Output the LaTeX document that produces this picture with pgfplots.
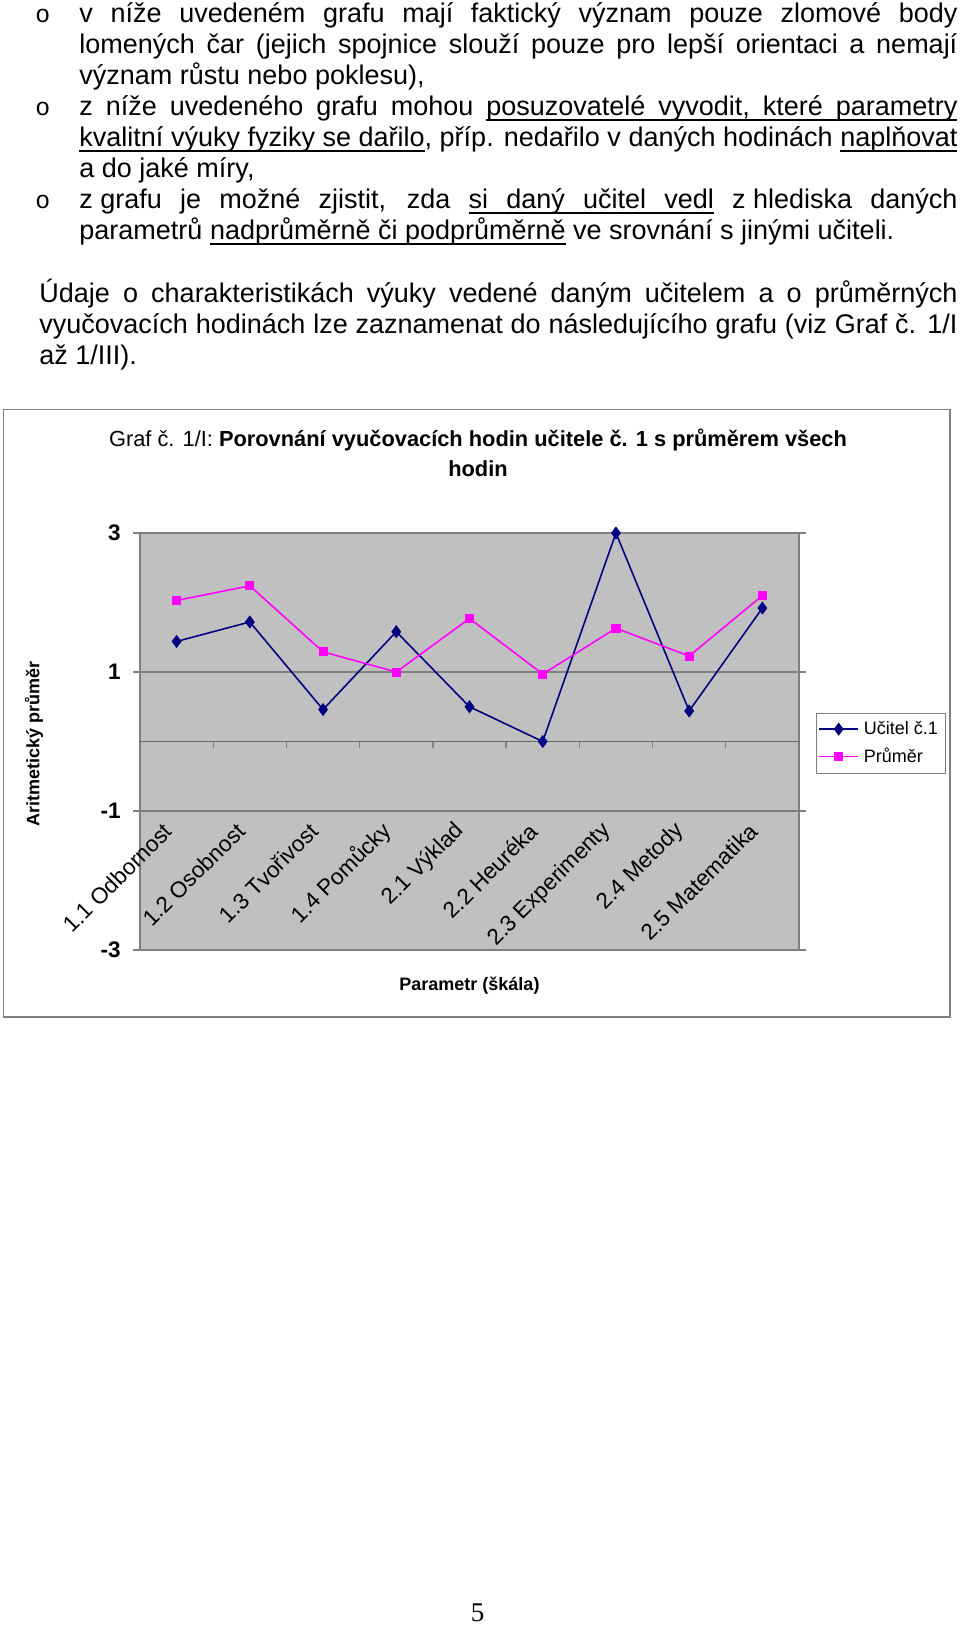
\documentclass[border=0pt]{standalone}
\usepackage{fontspec}
\setmainfont{Liberation Sans}
\newfontfamily\monofont{Liberation Mono}
\newfontfamily\seriffont{Liberation Serif}
\usepackage{pgfplots}
\pgfplotsset{compat=1.18}
\usepackage{pgfplotstable}

\definecolor{plotgray}{HTML}{C0C0C0}
\definecolor{bordergray}{HTML}{808080}
\definecolor{navyb}{HTML}{000080}
\definecolor{mag}{HTML}{FF00FF}

\newcommand\ulw[1]{\setbox0\hbox{#1}\rlap{\vrule height -1.6pt depth 2.15pt width\wd0}\box0\relax}
\newcommand\uls{\leaders\hrule height -1.6pt depth 2.15pt\hskip\fontdimen2\font plus\fontdimen3\font minus\fontdimen4\font\relax}

\pgfplotstableread{
x teacher avg
0 1.44 2.03
1 1.72 2.24
2 0.46 1.29
3 1.58 1.00
4 0.50 1.77
5 0.00 0.97
6 3.00 1.63
7 0.44 1.23
8 1.92 2.10
}\chartdata

\begin{document}
\begin{tikzpicture}
\begin{scope}[x=0.444444pt,y=-0.444444pt]
\path[use as bounding box, fill=white] (0,0) rectangle (960,1625);
\tikzset{body/.style={font=\fontsize{12}{13.8}\selectfont, inner sep=0pt, anchor=base west}}
% bullets
\foreach \yy in {22.7,115.7,208.7}{
  \node[body, font=\fontsize{11}{13}\selectfont] at (35,\yy) {\monofont o};
}
\node[body] at (79,22.7) {\hbox to 390.2pt{v níže uvedeném grafu mají faktický význam pouze zlomové body}};
\node[body] at (79,53.7) {\hbox to 390.2pt{lomených čar (jejich spojnice slouží pouze pro lepší orientaci a nemají}};
\node[body] at (79,84.7) {význam růstu nebo poklesu),};
\node[body] at (79,115.7) {\hbox to 390.2pt{z níže uvedeného grafu mohou \ulw{posuzovatelé}\uls\ulw{vyvodit,}\uls\ulw{které}\uls\ulw{parametry}}};
\node[body] at (79,146.7) {\hbox to 390.2pt{\ulw{kvalitní}\uls\ulw{výuky}\uls\ulw{fyziky}\uls\ulw{se}\uls\ulw{dařilo}, příp. nedařilo v daných hodinách \ulw{naplňovat}}};
\node[body] at (79,177.7) {a do jaké míry,};
\node[body] at (79,208.7) {\hbox to 390.2pt{\mbox{z grafu} je možné zjistit, zda \ulw{si}\uls\ulw{daný}\uls\ulw{učitel}\uls\ulw{vedl} \mbox{z hlediska} daných}};
\node[body] at (79,239.7) {parametrů \ulw{nadprůměrně}\uls\ulw{či}\uls\ulw{podprůměrně} ve srovnání s jinými učiteli.};
\node[body] at (39,302) {\hbox to 408pt{Údaje o charakteristikách výuky vedené daným učitelem a o průměrných}};
\node[body] at (39,333) {\hbox to 408pt{vyučovacích hodinách lze zaznamenat do následujícího grafu (viz Graf č. 1/I}};
\node[body] at (39,364) {až 1/III).};
% chart frame
\draw[bordergray, line width=0.6pt] (3.5,409.5) rectangle (950,1017);
% chart title
\node[anchor=base, inner sep=0pt, font=\fontsize{9.7}{11.6}\selectfont] at (478,446) {Graf č. 1/I: \textbf{Porovnání vyučovacích hodin učitele č. 1 s průměrem všech}};
\node[anchor=base, inner sep=0pt, font=\fontsize{9.7}{11.6}\selectfont\bfseries] at (478,476) {hodin};
% page number
\node[anchor=base, inner sep=0pt, font=\seriffont\fontsize{12}{14}\selectfont] at (477.5,1621) {5};
\end{scope}

\begin{axis}[
  at={(62.2222pt,-422.2222pt)}, anchor=south west,
  scale only axis, width=292.889pt, height=185.333pt,
  xmin=-0.5, xmax=8.5, ymin=-3, ymax=3,
  clip=false,
  axis background/.style={fill=plotgray},
  axis line style={draw=bordergray, line width=0.6pt},
  xtick={0,...,8},
  xticklabels={1.1 Odbornost, 1.2 Osobnost, 1.3 Tvořivost, 1.4 Pomůcky, 2.1 Výklad, 2.2 Heuréka, 2.3 Experimenty, 2.4 Metody, 2.5 Matematika},
  xtick style={draw=none},
  xticklabel style={font=\fontsize{10}{12}\selectfont, inner sep=0pt, xshift=-3.8pt, yshift=57.6pt, rotate=45, anchor=east},
  ytick={-3,-1,1,3}, yticklabels={-3,-1,1,3},
  yticklabel style={font=\fontsize{10}{12}\selectfont\bfseries, inner sep=0pt, anchor=east, xshift=-5.4pt},
  ytick style={draw=bordergray, line width=0.6pt},
  tick align=outside, major tick length=3pt,
  ymajorgrids, major grid style={draw=bordergray, line width=0.6pt},
  extra y ticks={0}, extra y tick labels={},
  extra y tick style={major tick length=0pt, major grid style={draw=bordergray!80!black, line width=0.6pt}},
  xlabel={Parametr (škála)}, ylabel={Aritmetický průměr},
  every axis x label/.style={at={(axis description cs:0.5,-0.0845)}, anchor=center, font=\fontsize{8}{9.6}\selectfont\bfseries},
  every axis y label/.style={at={(axis description cs:-0.161,0.493)}, anchor=center, rotate=90, font=\fontsize{8}{9.6}\selectfont\bfseries},
  legend style={at={(axis description cs:1.0258,0.5683)}, anchor=north west, draw=bordergray, fill=white, font=\fontsize{8}{9.6}\selectfont, inner sep=1pt, row sep=0pt, nodes={inner sep=2.3pt}},
  legend cell align=left,
]
\addplot[color=navyb, line width=0.7pt, mark=diamond*, mark size=2.6pt, mark options={fill=navyb, draw=navyb, line width=0.4pt}] table[x=x, y=teacher] {\chartdata};
\addlegendentry{Učitel č.1}
\addplot[color=mag, line width=0.7pt, mark=square*, mark size=1.8pt, mark options={fill=mag, draw=mag, line width=0.4pt}] table[x=x, y=avg] {\chartdata};
\addlegendentry{Průměr}
\pgfplotsinvokeforeach{0.5,1.5,2.5,3.5,4.5,5.5,6.5,7.5}{
  \draw[bordergray, line width=0.6pt] (axis cs:#1,0) -- ([yshift=-2.7pt]axis cs:#1,0);
}
\end{axis}
\end{tikzpicture}
\end{document}
